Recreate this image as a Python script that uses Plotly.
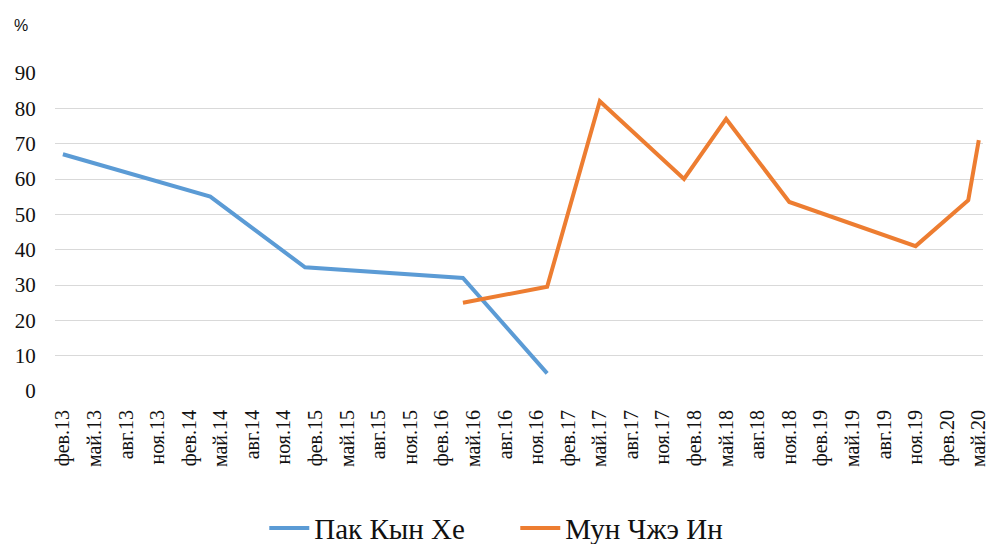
import plotly.graph_objects as go

# Quarterly tick labels (every 3 months, from Feb 2013 to May 2020)
tick_labels = [
    "фев.13", "май.13", "авг.13", "ноя.13",
    "фев.14", "май.14", "авг.14", "ноя.14",
    "фев.15", "май.15", "авг.15", "ноя.15",
    "фев.16", "май.16", "авг.16", "ноя.16",
    "фев.17", "май.17", "авг.17", "ноя.17",
    "фев.18", "май.18", "авг.18", "ноя.18",
    "фев.19", "май.19", "авг.19", "ноя.19",
    "фев.20", "май.20",
]

# Series: Park Geun-hye
park_dates = ["2013-02", "2014-04", "2015-01", "2016-04", "2016-12"]
park_values = [67, 55, 35, 32, 5]

# Series: Moon Jae-in
moon_dates = ["2016-04", "2016-12", "2017-05", "2018-01", "2018-05",
              "2018-11", "2019-11", "2020-04", "2020-05"]
moon_values = [25, 29.5, 82, 60, 77, 53.5, 41, 54, 71]


def month_index(s):
    y, m = s.split("-")
    return (int(y) - 2013) * 12 + (int(m) - 2)


park_x = [month_index(d) for d in park_dates]
moon_x = [month_index(d) for d in moon_dates]
tick_vals = [i * 3 for i in range(len(tick_labels))]

serif = '"Liberation Serif", "Times New Roman", serif'
clear = "rgba(0,0,0,0)"

fig = go.Figure()
fig.add_trace(go.Scatter(
    x=park_x, y=park_values, mode="lines", name="Пак Кын Хе",
    line=dict(color="#5B9BD5", width=4),
))
fig.add_trace(go.Scatter(
    x=moon_x, y=moon_values, mode="lines", name="Мун Чжэ Ин",
    line=dict(color="#ED7D31", width=4),
))

fig.update_layout(
    width=991, height=544,
    margin=dict(l=55, r=8, t=73, b=153, autoexpand=False),
    paper_bgcolor="white", plot_bgcolor="white",
    showlegend=True,
    legend=dict(
        orientation="h", x=0.496, xanchor="center", y=-0.431, yanchor="middle",
        font=dict(family=serif, size=29, color="#111111"),
        itemwidth=40, entrywidth=196,
    ),
    xaxis=dict(
        range=[-0.75, 87.4], automargin=False,
        tickmode="array", tickvals=tick_vals, ticktext=tick_labels,
        tickangle=-90, showgrid=False, zeroline=False, showline=False,
        ticks="outside", ticklen=10, tickcolor=clear,
        tickfont=dict(family=serif, size=20, color="#111111"),
    ),
    yaxis=dict(
        range=[0, 90], dtick=10, showgrid=True, gridcolor="#d9d9d9",
        gridwidth=1, zeroline=False, showline=False, automargin=False,
        ticks="outside", ticklen=14, tickcolor=clear,
        tickfont=dict(family=serif, size=21, color="#111111"),
    ),
    annotations=[dict(
        text="%", xref="paper", yref="paper", x=-0.046, y=1.15,
        xanchor="left", yanchor="middle", showarrow=False,
        font=dict(family="Liberation Sans, Arial, sans-serif", size=16, color="#111111"),
    )],
)

fig.write_html("out.html", config={"displayModeBar": False},
               post_script="document.body.style.margin='0';")
